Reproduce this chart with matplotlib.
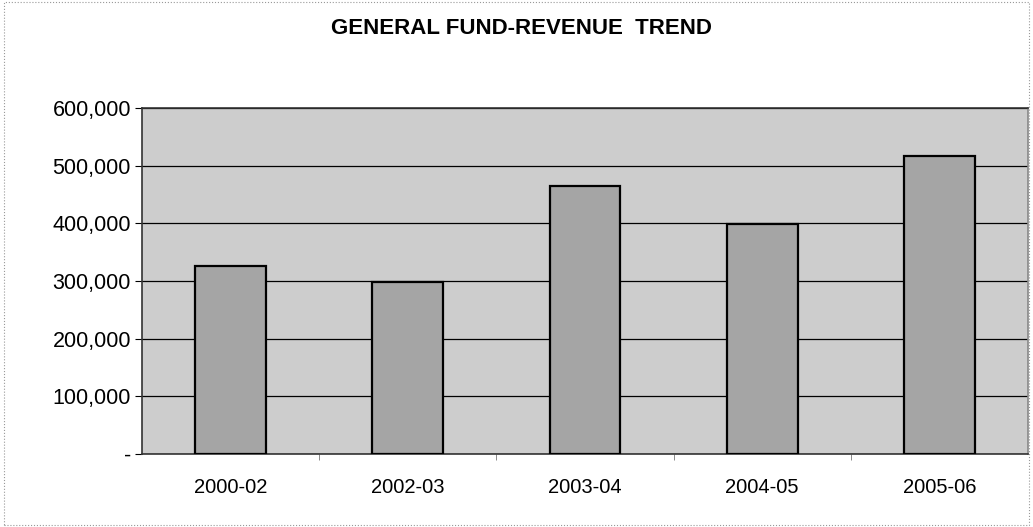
import matplotlib.pyplot as plt
from matplotlib.patches import Rectangle
from matplotlib.ticker import FuncFormatter
import numpy as np

years = ['2000-02', '2002-03', '2003-04', '2004-05', '2005-06']
revenue = [326000, 298000, 464000, 399000, 516000]

plt.rcParams['font.family'] = ['Liberation Sans', 'DejaVu Sans']

fig = plt.figure(figsize=(10.33, 5.27), dpi=100)
ax = fig.add_axes([142 / 1033, 73 / 527, 886 / 1033, 346 / 527])
ax.set_facecolor('#cdcdcd')

x = np.arange(len(years))
ax.bar(x, revenue, width=0.4, color='#a5a5a5', edgecolor='black', linewidth=1.6, zorder=3)

ax.set_xlim(-0.5, len(years) - 0.5)
ax.set_ylim(0, 600000)
ax.set_yticks(np.arange(0, 600001, 100000))
ax.yaxis.set_major_formatter(FuncFormatter(lambda v, p: '-' if v == 0 else f'{v:,.0f}'))
ax.grid(axis='y', color='black', linewidth=0.9, zorder=1)

ax.set_xticks(x)
ax.set_xticklabels(years)
ax.set_xticks(np.arange(0.5, len(years) - 1, 1), minor=True)
ax.tick_params(axis='x', which='major', length=0, pad=17, labelsize=14.5)
ax.tick_params(axis='x', which='minor', length=4, direction='out', color='#777777')
ax.tick_params(axis='y', length=5, direction='out', pad=3, labelsize=15.5)

for s in ax.spines.values():
    s.set_color('#333333')
    s.set_linewidth(1.2)
ax.spines['right'].set_color('#888888')

fig.text(0.505, 0.945, 'GENERAL FUND-REVENUE  TREND', ha='center', va='center',
         fontsize=16, fontweight='bold')

# dotted chart border
fig.patches.append(Rectangle((0.004, 0.004), 0.992, 0.992, transform=fig.transFigure,
                             fill=False, edgecolor='#999999', linewidth=0.8, linestyle=':'))

fig.savefig('out.png', dpi=100)
